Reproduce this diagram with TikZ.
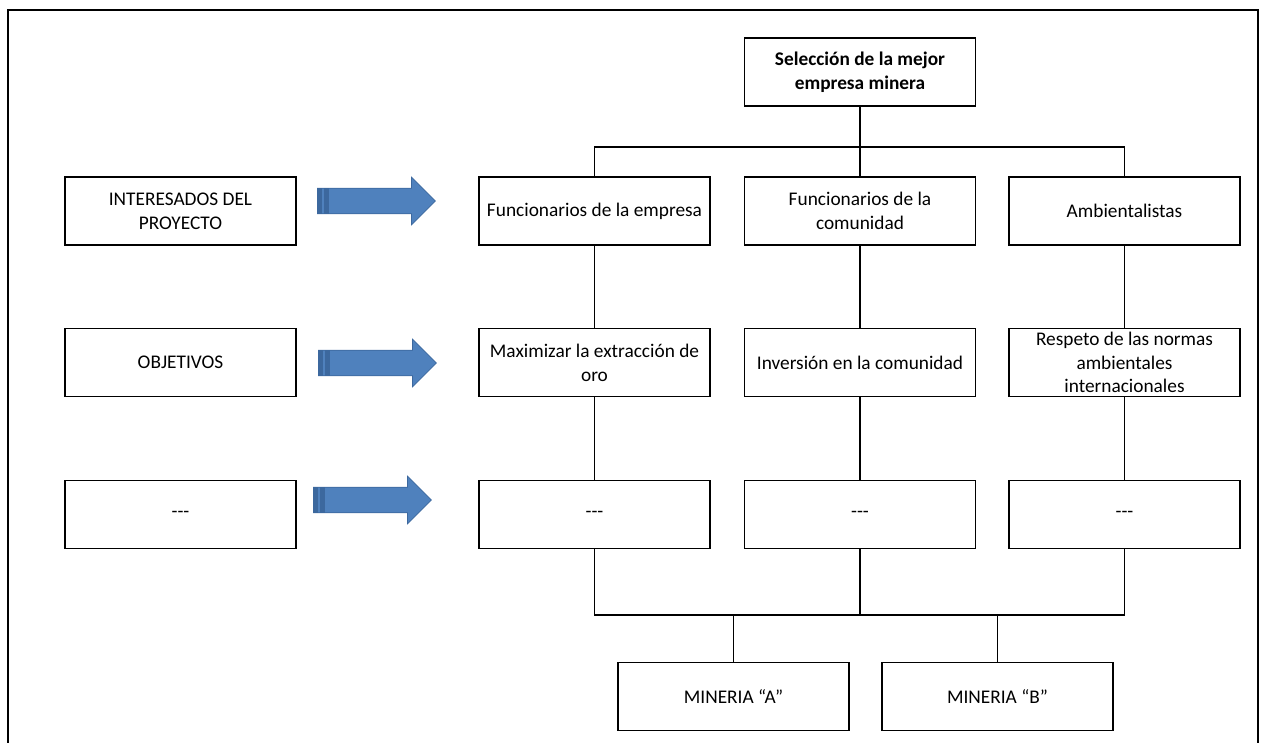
\documentclass[tikz,border=0pt]{standalone}
\usepackage{fontspec}
\setmainfont{Carlito}
\usetikzlibrary{shapes.arrows}
\definecolor{azulflecha}{RGB}{79,129,189}
\definecolor{bordeflecha}{RGB}{60,104,158}
\begin{document}
\begin{tikzpicture}[x=0.02cm, y=-0.02cm,
    every node/.style = {font=\fontsize{11}{13.5}\selectfont},
    caja/.style = {shape=rectangle, draw, line width=0.8pt, align=center,
      minimum width=4.62cm, minimum height=1.36cm, inner sep=1pt},
    flecha/.style = {single arrow, draw=bordeflecha, fill=azulflecha,
      minimum height=2.36cm, inner xsep=0pt, inner ysep=0.25cm,
      single arrow head extend=0.22cm},
    linea/.style = {line width=0.8pt}]
    \useasboundingbox (0,0) rectangle (1262,743);
    % marco
    \draw[line width=1.5pt] (8,743) -- (8,10) -- (1258,10) -- (1258,743);
    % objetivo principal
    \node[caja, font=\fontsize{11}{13.5}\selectfont\bfseries] (sel) at (860,72)
        {Selección de la mejor\\empresa minera};
    % columna izquierda
    \node[caja] (izq1) at (180.5,211) {INTERESADOS DEL\\PROYECTO};
    \node[caja] (izq2) at (180.5,362.5) {OBJETIVOS};
    \node[caja] (izq3) at (180.5,514.5) {-{}-{}-};
    % flechas
    \node[flecha] (f1) at (370,201) {};
    \node[flecha] (f2) at (371,363) {};
    \node[flecha] (f3) at (366,500) {};
    \foreach \f in {f1,f2,f3} {
      \fill[bordeflecha] ([xshift=0.01cm]\f.before tail) rectangle ([xshift=0.1cm]\f.after tail);
      \fill[bordeflecha] ([xshift=0.14cm]\f.before tail) rectangle ([xshift=0.24cm]\f.after tail);
    }
    % interesados
    \node[caja] (int1) at (594.5,211) {Funcionarios de la empresa};
    \node[caja] (int2) at (860,211) {Funcionarios de la\\comunidad};
    \node[caja] (int3) at (1124.5,211) {Ambientalistas};
    % objetivos
    \node[caja] (obj1) at (594.5,362.5) {Maximizar la extracción de\\oro};
    \node[caja] (obj2) at (860,362.5) {Inversión en la comunidad};
    \node[caja] (obj3) at (1124.5,362.5) {Respeto de las normas\\ambientales\\internacionales};
    % siguientes
    \node[caja] (sig1) at (594.5,514.5) {-{}-{}-};
    \node[caja] (sig2) at (860,514.5) {-{}-{}-};
    \node[caja] (sig3) at (1124.5,514.5) {-{}-{}-};
    % alternativas
    \node[caja] (minA) at (733.5,696.5) {MINERIA “A”};
    \node[caja] (minB) at (997.5,696.5) {MINERIA “B”};
    % conexiones
    \coordinate (busarriba) at (860,147);
    \coordinate (busabajo) at (860,615);
    \draw[linea] (sel.south) -- (int2.north);
    \draw[linea] (int1.north) |- (busarriba) -| (int3.north);
    \foreach \c in {1,2,3} {
      \draw[linea] (int\c.south) -- (obj\c.north);
      \draw[linea] (obj\c.south) -- (sig\c.north);
    }
    \draw[linea] (sig1.south) |- (busabajo) -| (sig3.south);
    \draw[linea] (sig2.south) -- (busabajo);
    \draw[linea] (minA.north) -- (minA.north |- busabajo);
    \draw[linea] (minB.north) -- (minB.north |- busabajo);
\end{tikzpicture}
\end{document}
